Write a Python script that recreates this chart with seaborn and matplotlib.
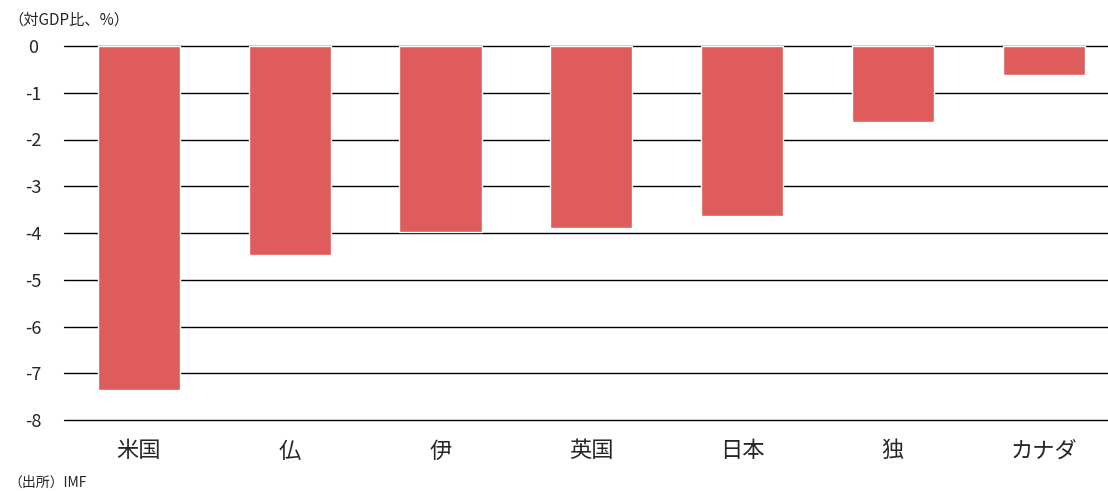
import matplotlib
matplotlib.use("Agg")
import matplotlib.pyplot as plt
import seaborn as sns
import pandas as pd

countries = ["米国", "仏", "伊", "英国", "日本", "独", "カナダ"]
values = [-7.36, -4.47, -3.98, -3.89, -3.64, -1.63, -0.62]
yticks = [0, -1, -2, -3, -4, -5, -6, -7, -8]

sns.set_theme(style="white")
plt.rcParams['font.family'] = ['Noto Sans CJK JP', 'DejaVu Sans']

df = pd.DataFrame({"country": countries, "value": values})

fig = plt.figure(figsize=(11.08, 4.91), dpi=100)
left = 63.6
right = 1119.0
ax = fig.add_axes([left/1108, 1-420/491, (right-left)/1108, (420-46)/491])

sns.barplot(data=df, x="country", y="value", color="#DE5C5C", saturation=1,
            width=0.545, edgecolor="white", linewidth=1, ax=ax, zorder=3)

ax.set_ylim(-8, 0)
ax.set_yticks(yticks)
ax.set_yticklabels([str(t) for t in yticks], fontsize=13)
for t in yticks:
    ax.axhline(t, color="black", linewidth=1, zorder=1, clip_on=False)
ax.set_xlim(-0.5, len(countries) - 0.5)
ax.set_xlabel("")
ax.set_ylabel("")
for s in ax.spines.values():
    s.set_visible(False)
ax.tick_params(axis="y", length=0, pad=22)
ax.tick_params(axis="x", length=0, pad=14, labelsize=16)
for lbl in ax.get_yticklabels():
    lbl.set_horizontalalignment("center")

fig.text(8/1108, 1-20/491, "（対GDP比、%）", fontsize=11, va="center", ha="left")
fig.text(8/1108, 1-483/491, "（出所）IMF", fontsize=10, va="center", ha="left")

fig.savefig("out.png", dpi=100)
